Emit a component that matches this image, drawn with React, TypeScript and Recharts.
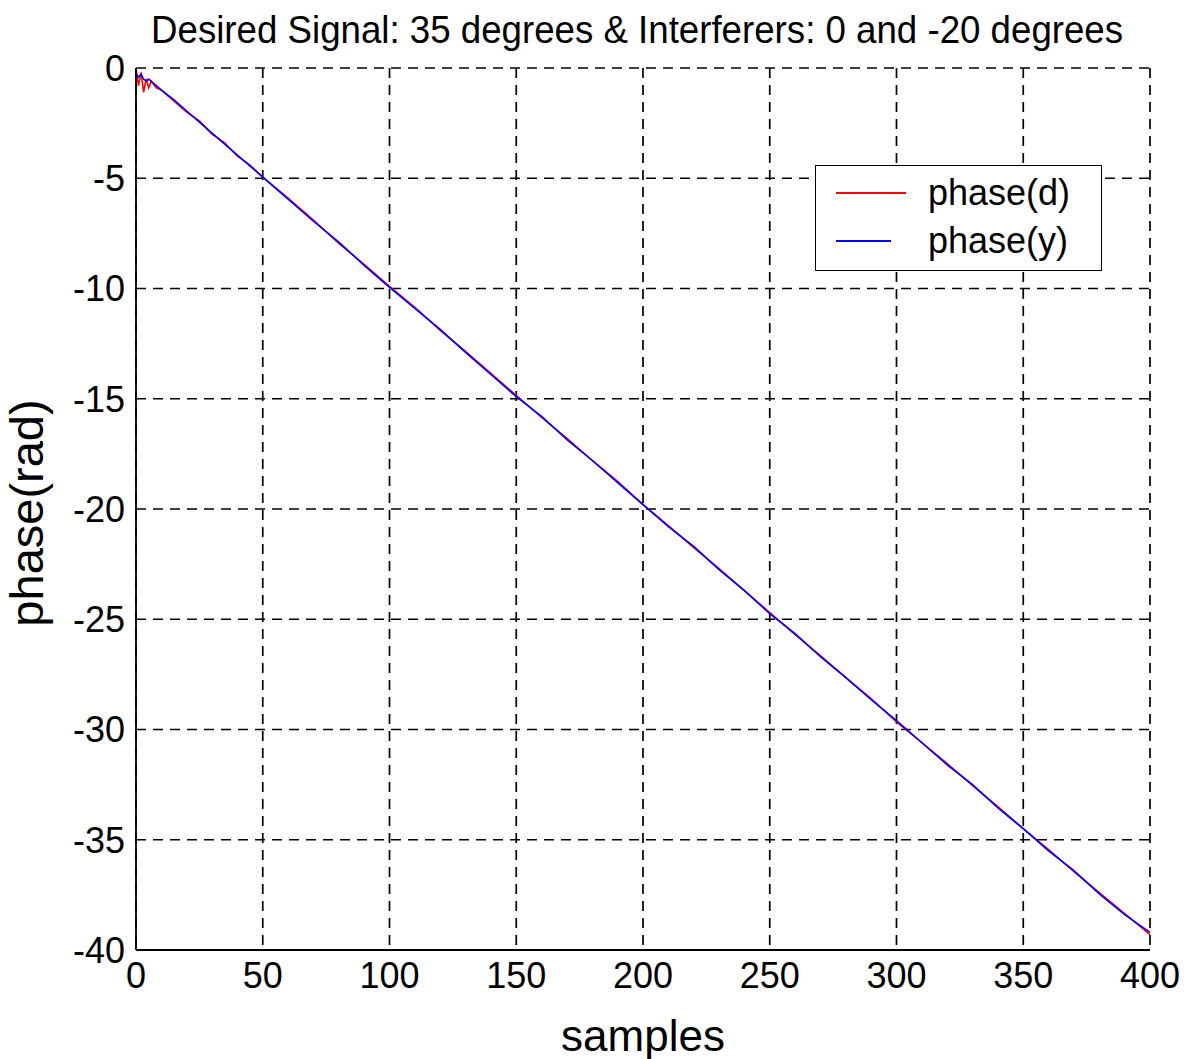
import { LineChart, Line, XAxis, YAxis, CartesianGrid, Legend, Label } from 'recharts'

const samples = [0, 1, 2, 3, 4, 5, 6, 8, 10, 15, 20, 25, 30, 35, 40, 45, 50, 60, 70, 80, 90, 100, 110, 120, 130, 140, 150, 160, 170, 180, 190, 200, 210, 220, 230, 240, 250, 260, 270, 280, 290, 300, 310, 320, 330, 340, 350, 360, 370, 380, 390, 400]
const phaseD = [0, -0.8, -0.2, -1.1, -0.5, -0.9, -0.6, -0.9, -1.0, -1.5, -2.0, -2.4, -3.0, -3.4, -4.0, -4.4, -4.95, -5.9, -6.9, -7.95, -8.9, -9.9, -10.85, -11.9, -12.85, -13.85, -14.85, -15.85, -16.8, -17.8, -18.75, -19.8, -20.75, -21.75, -22.7, -23.7, -24.7, -25.7, -26.65, -27.65, -28.6, -29.65, -30.6, -31.55, -32.55, -33.5, -34.5, -35.45, -36.45, -37.4, -38.35, -39.3]
const phaseY = [-0.3, -0.4, -0.3, -0.5, -0.6, -0.5, -0.6, -0.8, -1.0, -1.45, -1.95, -2.45, -2.95, -3.45, -3.95, -4.45, -4.95, -5.95, -6.95, -7.9, -8.95, -9.95, -10.9, -11.85, -12.9, -13.9, -14.9, -15.8, -16.85, -17.8, -18.8, -19.8, -20.8, -21.7, -22.75, -23.7, -24.75, -25.65, -26.7, -27.65, -28.65, -29.6, -30.6, -31.6, -32.5, -33.55, -34.5, -35.5, -36.4, -37.45, -38.4, -39.2]
const xTicks = [0, 50, 100, 150, 200, 250, 300, 350, 400]
const yTicks = [-40, -35, -30, -25, -20, -15, -10, -5, 0]

const data = samples.map((n, i) => ({ n, d: phaseD[i], y: phaseY[i] }))

const font = '"Liberation Sans", Arial, sans-serif'

function LegendBox() {
  const row = (color: string, len: number, text: string) => (
    <div style={{ display: 'flex', alignItems: 'center', height: 48 }}>
      <div style={{ width: 20 }} />
      <div style={{ width: len, height: 2, background: color }} />
      <div style={{ width: 92 - len }} />
      <span style={{ fontSize: 36, lineHeight: '48px' }}>{text}</span>
    </div>
  )
  return (
    <div style={{ width: 287, height: 106, boxSizing: 'border-box', border: '1.5px solid #000', background: '#fff', fontFamily: font, color: '#000', paddingTop: 3 }}>
      {row('#ff0000', 70, 'phase(d)')}
      {row('#0000ff', 55, 'phase(y)')}
    </div>
  )
}

export default function App() {
  return (
    <div style={{ position: 'absolute', left: 0, top: 0, width: 1197, height: 1059, background: '#fff', fontFamily: font }}>
      <div style={{ position: 'absolute', left: 0, top: 8, width: 1275, textAlign: 'center', fontSize: 39, lineHeight: '44px', color: '#000', zIndex: 2 }}>
        <span style={{ display: 'inline-block', transform: 'scaleX(0.94)', whiteSpace: 'nowrap' }}>
          Desired Signal: 35 degrees &amp; Interferers: 0 and -20 degrees
        </span>
      </div>
      <LineChart width={1197} height={1059} data={data} margin={{ top: 68, right: 47, bottom: 0, left: 0 }}>
        <CartesianGrid stroke="#000" strokeDasharray="10 7" strokeWidth={1.7} />
        <XAxis
          dataKey="n"
          type="number"
          domain={[0, 400]}
          ticks={xTicks}
          height={109}
          tickLine={false}
          tickSize={0}
          tickMargin={12}
          tick={{ fontSize: 36, fill: '#000', fontFamily: font }}
          axisLine={{ stroke: '#000', strokeWidth: 1.8 }}
        >
          <Label value="samples" position="insideBottom" offset={8} style={{ fontSize: 44, fill: '#000', fontFamily: font }} />
        </XAxis>
        <XAxis xAxisId="top" orientation="top" type="number" domain={[0, 400]} height={0} tick={false} tickLine={false} axisLine={{ stroke: '#000', strokeWidth: 1.8 }} />
        <YAxis
          type="number"
          domain={[-40, 0]}
          ticks={yTicks}
          width={136}
          tickLine={false}
          tickSize={0}
          tickMargin={11}
          tick={{ fontSize: 36, fill: '#000', fontFamily: font }}
          axisLine={{ stroke: '#000', strokeWidth: 1.8 }}
        >
          <Label
            content={({ viewBox }: any) => {
              const cy = viewBox.y + viewBox.height / 2 + 4
              return (
                <text
                  x={43}
                  y={cy}
                  transform={`rotate(-90, 43, ${cy})`}
                  textAnchor="middle"
                  style={{ fontSize: 47, fill: '#000', fontFamily: font }}
                >
                  phase(rad)
                </text>
              )
            }}
          />
        </YAxis>
        <YAxis yAxisId="right" orientation="right" type="number" domain={[-40, 0]} width={0} tick={false} tickLine={false} axisLine={{ stroke: '#000', strokeWidth: 1.8 }} />
        <Legend
          layout="vertical"
          verticalAlign="middle"
          align="center"
          content={() => <LegendBox />}
          wrapperStyle={{ position: 'absolute', left: 815, top: 165, width: 287, height: 106 }}
        />
        <Line type="linear" dataKey="d" name="phase(d)" stroke="#ff0000" strokeWidth={1.6} dot={false} isAnimationActive={false} />
        <Line type="linear" dataKey="y" name="phase(y)" stroke="#0000ff" strokeWidth={1.6} dot={false} isAnimationActive={false} />
      </LineChart>
    </div>
  )
}
